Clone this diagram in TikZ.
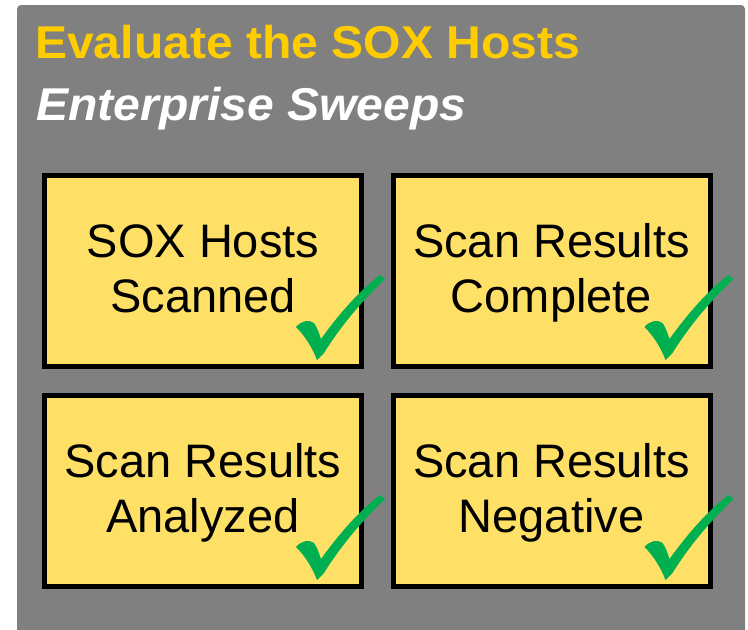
\documentclass[tikz,border=0pt]{standalone}
\usepackage{fontspec}
\setmainfont{Liberation Sans}
\newfontfamily\headfont[FakeStretch=1.045]{Liberation Sans}
\usetikzlibrary{shadows}
\definecolor{bggray}{HTML}{808080}
\definecolor{boxyellow}{HTML}{FFE066}
\definecolor{titleyellow}{HTML}{FFCC00}
\definecolor{checkgreen}{HTML}{00B050}
\newcommand{\lstrut}{\rule[-14pt]{0pt}{55pt}}
\tikzset{
  taskbox/.style={draw=black, line width=5pt, fill=boxyellow, minimum width=317pt, minimum height=191pt, inner sep=0pt,
    drop shadow={opacity=0.25, shadow xshift=2pt, shadow yshift=-2pt}},
  tasktext/.style={align=center, inner sep=0pt, font=\fontsize{47}{55}\selectfont},
  titletext/.style={anchor=base west, inner sep=0pt, text=titleyellow, font=\headfont\fontsize{46}{50}\selectfont\bfseries},
  subtext/.style={anchor=base west, inner sep=0pt, text=white, font=\headfont\fontsize{46}{50}\selectfont\bfseries\itshape},
  checkmark/.pic={
    \fill[checkgreen] (-68,-42) .. controls (-63,-48) and (-55,-50) .. (-50,-46)
      .. controls (-47,-42) and (-45,-36) .. (-43,-30)
      .. controls (-25,-55) and (-5,-78) .. (16,-94) -- (21,-90)
      .. controls (0,-70) and (-22,-45) .. (-40,-16) -- (-47,-9)
      .. controls (-52,-22) and (-59,-33) .. cycle;
  }
}
\begin{document}
\begin{tikzpicture}[x=1pt,y=-1pt]
\useasboundingbox (0,0) rectangle (748,630);
\clip (0,0) rectangle (748,630);
\fill[white] (0,0) rectangle (748,630);
\fill[bggray, rounded corners=4pt] (17,5) rectangle (745,640);
\node[titletext] (title) at (35,58) {Evaluate the SOX Hosts};
\node[subtext] (sub) at (36,120) {Enterprise Sweeps};
\node[taskbox] (b1) at (203,271) {};
\node[taskbox] (b2) at (551.5,271) {};
\node[taskbox] (b3) at (203,491) {};
\node[taskbox] (b4) at (551.5,491) {};
\node[tasktext] (t1) at (b1.center) {\lstrut SOX Hosts\\\lstrut Scanned};
\node[tasktext] (t2) at (b2.center) {\lstrut Scan Results\\\lstrut Complete};
\node[tasktext] (t3) at (b3.center) {\lstrut Scan Results\\\lstrut Analyzed};
\node[tasktext] (t4) at (b4.center) {\lstrut Scan Results\\\lstrut Negative};
\pic at (b1.south east) {checkmark};
\pic at (b2.south east) {checkmark};
\pic at (b3.south east) {checkmark};
\pic at (b4.south east) {checkmark};
\end{tikzpicture}
\end{document}
